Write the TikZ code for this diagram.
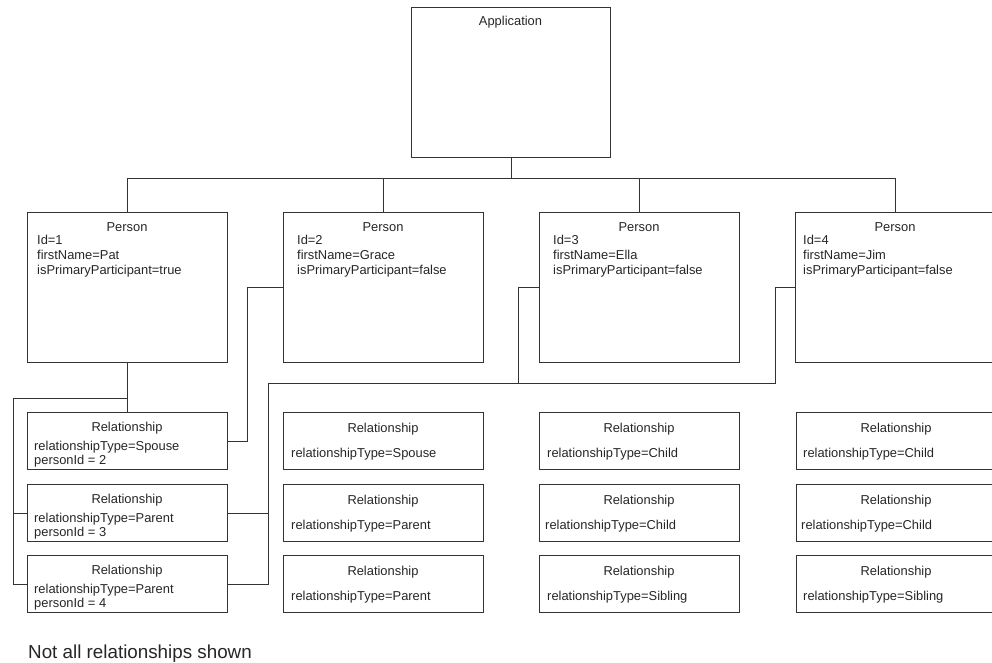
\documentclass[tikz,border=0pt]{standalone}
\usepackage{fontspec}
\setmainfont{Liberation Sans}
\begin{document}
\begin{tikzpicture}[x=1pt,y=-1pt,
  box/.style={draw=black!80, line width=1pt, minimum width=200pt, minimum height=150pt, anchor=north west, inner sep=0pt},
  rbox/.style={box, minimum height=57pt},
  ttl/.style={inner sep=0pt, text height=9pt, text depth=2.5pt, anchor=center, font=\fontsize{12.9}{15}\selectfont, text=black!85},
  txt/.style={ttl, anchor=west},
  wire/.style={draw=black!80, line width=1pt}]
\useasboundingbox (0,0) rectangle (992,662);
\clip (0,0) rectangle (992,662);
% Application
\node[box, minimum width=199pt] (app) at (411,7) {};
\node[ttl] (appt) at (510.5,22) {Application};
% Persons
\node[box] (p1) at (27,212) {};
\node[ttl] (p1t) at (127,228) {Person};
\node[txt] (p1a) at (37,241) {Id=1};
\node[txt] (p1b) at (37,256) {firstName=Pat};
\node[txt] (p1c) at (37,271.5) {isPrimaryParticipant=true};
\node[box] (p2) at (283,212) {};
\node[ttl] (p2t) at (383,228) {Person};
\node[txt] (p2a) at (297,241) {Id=2};
\node[txt] (p2b) at (297,256) {firstName=Grace};
\node[txt] (p2c) at (297,271.5) {isPrimaryParticipant=false};
\node[box] (p3) at (539,212) {};
\node[ttl] (p3t) at (639,228) {Person};
\node[txt] (p3a) at (553,241) {Id=3};
\node[txt] (p3b) at (553,256) {firstName=Ella};
\node[txt] (p3c) at (553,271.5) {isPrimaryParticipant=false};
\node[box] (p4) at (795,212) {};
\node[ttl] (p4t) at (895,228) {Person};
\node[txt] (p4a) at (803,241) {Id=4};
\node[txt] (p4b) at (803,256) {firstName=Jim};
\node[txt] (p4c) at (803,271.5) {isPrimaryParticipant=false};
% Relationships column 1
\node[rbox] (r11) at (27,412) {};
\node[ttl] (r11t) at (127,428) {Relationship};
\node[txt] (r11a) at (34,447) {relationshipType=Spouse};
\node[txt] (r11b) at (34,461) {personId = 2};
\node[rbox] (r12) at (27,484) {};
\node[ttl] (r12t) at (127,500) {Relationship};
\node[txt] (r12a) at (34,519) {relationshipType=Parent};
\node[txt] (r12b) at (34,533) {personId = 3};
\node[rbox] (r13) at (27,555) {};
\node[ttl] (r13t) at (127,571) {Relationship};
\node[txt] (r13a) at (34,590) {relationshipType=Parent};
\node[txt] (r13b) at (34,604) {personId = 4};
% Relationships column 2
\node[rbox] (r21) at (283,412) {};
\node[ttl] (r21t) at (383,429) {Relationship};
\node[txt] (r21a) at (291,454) {relationshipType=Spouse};
\node[rbox] (r22) at (283,484) {};
\node[ttl] (r22t) at (383,501) {Relationship};
\node[txt] (r22a) at (291,526) {relationshipType=Parent};
\node[rbox] (r23) at (283,555) {};
\node[ttl] (r23t) at (383,572) {Relationship};
\node[txt] (r23a) at (291,597) {relationshipType=Parent};
% Relationships column 3
\node[rbox] (r31) at (539,412) {};
\node[ttl] (r31t) at (639,429) {Relationship};
\node[txt] (r31a) at (547,454) {relationshipType=Child};
\node[rbox] (r32) at (539,484) {};
\node[ttl] (r32t) at (639,501) {Relationship};
\node[txt] (r32a) at (545,526) {relationshipType=Child};
\node[rbox] (r33) at (539,555) {};
\node[ttl] (r33t) at (639,572) {Relationship};
\node[txt] (r33a) at (547,597) {relationshipType=Sibling};
% Relationships column 4
\node[rbox] (r41) at (796,412) {};
\node[ttl] (r41t) at (896,429) {Relationship};
\node[txt] (r41a) at (803,454) {relationshipType=Child};
\node[rbox] (r42) at (796,484) {};
\node[ttl] (r42t) at (896,501) {Relationship};
\node[txt] (r42a) at (801,526) {relationshipType=Child};
\node[rbox] (r43) at (796,555) {};
\node[ttl] (r43t) at (896,572) {Relationship};
\node[txt] (r43a) at (803,597) {relationshipType=Sibling};
% Footnote
\node[anchor=west, inner sep=0pt, text height=13pt, text depth=3.5pt, font=\fontsize{18.8}{22}\selectfont, text=black!85] (note) at (28,653.5) {Not all relationships shown};
% Tree connectors
\coordinate (busy) at (0,178);
\draw[wire] (app.south) -- (app.south |- busy);
\draw[wire] (p1.north) -- (p1.north |- busy) -- (p4.north |- busy) -- (p4.north);
\draw[wire] (p2.north) -- (p2.north |- busy);
\draw[wire] (p3.north) -- (p3.north |- busy);
% Person 1 to its relationships
\coordinate (l1) at (13,398);
\draw[wire] (p1.south) -- (r11.north);
\draw[wire] (p1.south |- l1) -- (l1) |- (r13.west);
\draw[wire] (l1 |- r12.west) -- (r12.west);
% Person 2 to relationship 1
\coordinate (c2) at (247,0);
\draw[wire] (p2.west) -| (c2 |- r11.east) -- (r11.east);
% Persons 3 and 4 to relationships 2 and 3
\coordinate (c3) at (518,383);
\coordinate (c4) at (268,383);
\coordinate (c5) at (775,383);
\draw[wire] (p3.west) -| (c3) -- (c4) |- (r13.east);
\draw[wire] (c4 |- r12.east) -- (r12.east);
\draw[wire] (p4.west) -| (c5) -- (c3);
\end{tikzpicture}
\end{document}
